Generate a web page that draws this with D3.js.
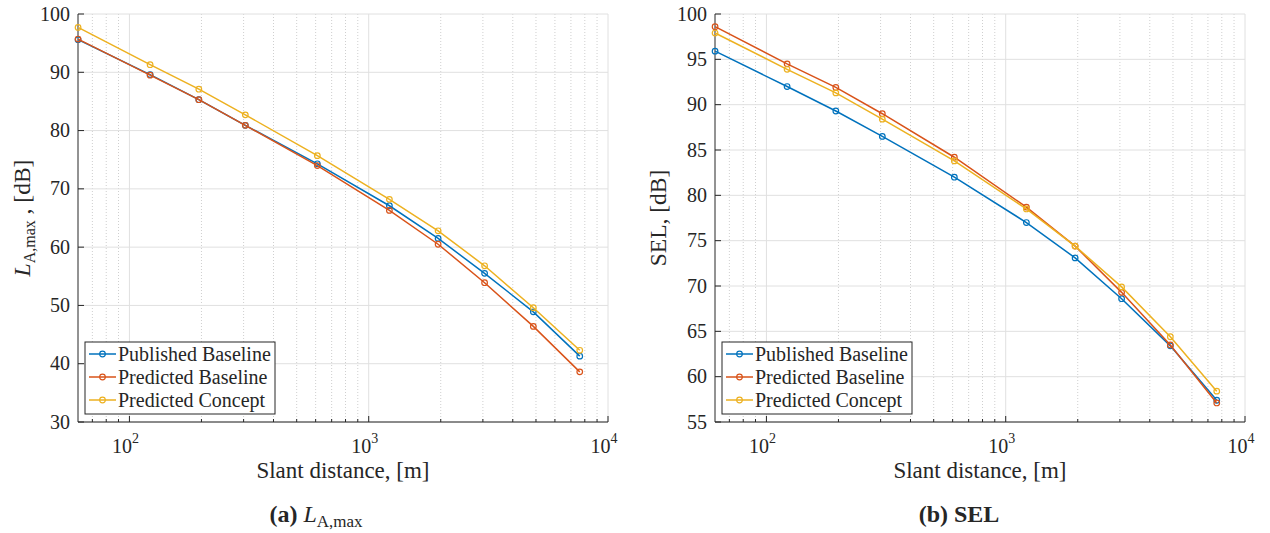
<!DOCTYPE html>
<html lang="en">
<head>
<meta charset="utf-8">
<script src="https://cdn.jsdelivr.net/npm/d3@7"></script>
<style>
  body { margin: 0; background: #fff; }
  text { font-family: "Liberation Serif", "Times New Roman", serif; fill: #262626; }
</style>
</head>
<body>
<script>
// slant distances of the measuring points [m]
var distances = [61, 122, 195, 305, 610, 1220, 1950, 3050, 4875, 7620];
var seriesNames = ["Published Baseline", "Predicted Baseline", "Predicted Concept"];
var seriesColors = ["#0072bd", "#d95319", "#edb120"];

// (a) LA,max [dB]
var lamaxPublished = [95.6, 89.6, 85.3, 80.9, 74.3, 67.1, 61.5, 55.5, 48.9, 41.3];
var lamaxPredicted = [95.7, 89.5, 85.3, 80.9, 74.0, 66.3, 60.5, 53.9, 46.4, 38.6];
var lamaxConcept   = [97.7, 91.3, 87.1, 82.7, 75.7, 68.2, 62.8, 56.8, 49.6, 42.3];

// (b) SEL [dB]
var selPublished = [95.9, 92.0, 89.3, 86.5, 82.0, 77.0, 73.1, 68.6, 63.4, 57.4];
var selPredicted = [98.6, 94.5, 91.9, 89.0, 84.2, 78.7, 74.4, 69.3, 63.5, 57.1];
var selConcept   = [97.9, 93.9, 91.3, 88.4, 83.8, 78.5, 74.4, 69.9, 64.4, 58.4];

var lamaxTicks = [30, 40, 50, 60, 70, 80, 90, 100];
var selTicks = [55, 60, 65, 70, 75, 80, 85, 90, 95, 100];
var xTicks = [100, 1000, 10000];
var xTickExp = ["2", "3", "4"];
var xDomain = [60.96, 10000];

var svg = d3.select("body").append("svg")
  .attr("width", 1270)
  .attr("height", 533);

function drawPanel(p) {
  var x = d3.scaleLog().domain(xDomain).range([p.left, p.right]);
  var y = d3.scaleLinear().domain(p.yDomain).range([p.bottom, p.top]);
  var g = svg.append("g");

  // minor x grid (dotted)
  var minor = [];
  [10, 100, 1000].forEach(function(dec) {
    for (var k = 2; k <= 9; k++) minor.push(k * dec);
  });
  minor = minor.filter(function(v) { return v > xDomain[0] && v < xDomain[1]; });

  g.selectAll(".mgrid").data(minor).enter().append("line")
    .attr("x1", function(d) { return x(d); }).attr("x2", function(d) { return x(d); })
    .attr("y1", p.top).attr("y2", p.bottom)
    .attr("stroke", "#cfcfcf").attr("stroke-width", 1).attr("stroke-dasharray", "1,2");

  // major grid
  g.selectAll(".xgrid").data(xTicks).enter().append("line")
    .attr("x1", function(d) { return x(d); }).attr("x2", function(d) { return x(d); })
    .attr("y1", p.top).attr("y2", p.bottom)
    .attr("stroke", "#e0e0e0").attr("stroke-width", 1);
  g.selectAll(".ygrid").data(p.yTicks).enter().append("line")
    .attr("x1", p.left).attr("x2", p.right)
    .attr("y1", function(d) { return y(d); }).attr("y2", function(d) { return y(d); })
    .attr("stroke", "#e0e0e0").attr("stroke-width", 1);

  // axes
  g.append("line").attr("x1", p.left).attr("x2", p.left).attr("y1", p.top).attr("y2", p.bottom)
    .attr("stroke", "#262626").attr("stroke-width", 1);
  g.append("line").attr("x1", p.left).attr("x2", p.right).attr("y1", p.bottom).attr("y2", p.bottom)
    .attr("stroke", "#262626").attr("stroke-width", 1);

  // y ticks (inward)
  g.selectAll(".ytick").data(p.yTicks).enter().append("line")
    .attr("x1", p.left).attr("x2", p.left + 6)
    .attr("y1", function(d) { return y(d); }).attr("y2", function(d) { return y(d); })
    .attr("stroke", "#262626");
  g.selectAll(".ylab").data(p.yTicks).enter().append("text")
    .attr("x", p.left - 8).attr("y", function(d) { return y(d); })
    .attr("dy", "0.33em").attr("text-anchor", "end")
    .attr("font-size", 20).text(function(d) { return d; });

  // x ticks (inward)
  g.selectAll(".xtick").data(xTicks).enter().append("line")
    .attr("x1", function(d) { return x(d); }).attr("x2", function(d) { return x(d); })
    .attr("y1", p.bottom).attr("y2", p.bottom - 6)
    .attr("stroke", "#262626");
  g.selectAll(".xmtick").data(minor).enter().append("line")
    .attr("x1", function(d) { return x(d); }).attr("x2", function(d) { return x(d); })
    .attr("y1", p.bottom).attr("y2", p.bottom - 3)
    .attr("stroke", "#262626");
  var xl = g.selectAll(".xlab").data(xTicks).enter().append("text")
    .attr("x", function(d) { return x(d) - 4; }).attr("y", p.bottom + 31)
    .attr("text-anchor", "middle").attr("font-size", 20);
  xl.append("tspan").text("10");
  xl.append("tspan").attr("dy", -10).attr("font-size", 14).text(function(d, i) { return xTickExp[i]; });

  // series
  var line = d3.line()
    .x(function(d) { return x(d[0]); })
    .y(function(d) { return y(d[1]); });
  p.series.forEach(function(vals, i) {
    var pts = distances.map(function(dd, j) { return [dd, vals[j]]; });
    g.append("path").datum(pts).attr("d", line)
      .attr("fill", "none").attr("stroke", seriesColors[i]).attr("stroke-width", 1.5);
    g.selectAll(".pt" + i).data(pts).enter().append("circle")
      .attr("cx", function(d) { return x(d[0]); }).attr("cy", function(d) { return y(d[1]); })
      .attr("r", 2.8).attr("fill", "none")
      .attr("stroke", seriesColors[i]).attr("stroke-width", 1.2);
  });

  // legend
  var lx = p.left + 7, ly = 342, lw = 190, lh = 72;
  g.append("rect").attr("x", lx).attr("y", ly).attr("width", lw).attr("height", lh)
    .attr("fill", "#fff").attr("stroke", "#262626").attr("stroke-width", 1);
  seriesNames.forEach(function(name, i) {
    var ry = ly + 12 + i * 23;
    g.append("line").attr("x1", lx + 4).attr("x2", lx + 31).attr("y1", ry).attr("y2", ry)
      .attr("stroke", seriesColors[i]).attr("stroke-width", 1.5);
    g.append("circle").attr("cx", lx + 17.5).attr("cy", ry).attr("r", 2.8)
      .attr("fill", "none").attr("stroke", seriesColors[i]).attr("stroke-width", 1.2);
    g.append("text").attr("x", lx + 33).attr("y", ry).attr("dy", "0.33em")
      .attr("font-size", 20).text(name);
  });

  // x label
  var cx = (p.left + p.right) / 2;
  g.append("text").attr("x", cx).attr("y", 478).attr("text-anchor", "middle")
    .attr("font-size", 23).text("Slant distance, [m]");

  // y label
  var yl = g.append("text")
    .attr("transform", "translate(" + p.ylabelX + "," + ((p.top + p.bottom) / 2) + ") rotate(-90)")
    .attr("text-anchor", "middle").attr("font-size", 23.5);
  p.ylabel(yl);

  // caption
  var cap = g.append("text").attr("x", p.captionX).attr("y", 522)
    .attr("text-anchor", "middle").attr("font-size", 24);
  p.caption(cap);
}

drawPanel({
  left: 78, right: 608, top: 14, bottom: 422,
  yDomain: [30, 100], yTicks: lamaxTicks,
  series: [lamaxPublished, lamaxPredicted, lamaxConcept],
  ylabelX: 30, captionX: 316,
  ylabel: function(t) {
    t.append("tspan").attr("font-style", "italic").text("L");
    t.append("tspan").attr("font-size", 16).attr("dy", 5).text("A,max");
    t.append("tspan").attr("dy", -5).text(" , [dB]");
  },
  caption: function(t) {
    t.append("tspan").attr("font-weight", "bold").text("(a) ");
    t.append("tspan").attr("font-style", "italic").text("L");
    t.append("tspan").attr("font-size", 17).attr("dy", 5).text("A,max");
  }
});

drawPanel({
  left: 715, right: 1245, top: 14, bottom: 422,
  yDomain: [55, 100], yTicks: selTicks,
  series: [selPublished, selPredicted, selConcept],
  ylabelX: 666, captionX: 959,
  ylabel: function(t) { t.text("SEL, [dB]"); },
  caption: function(t) { t.attr("font-weight", "bold").text("(b) SEL"); }
});
</script>
</body>
</html>
